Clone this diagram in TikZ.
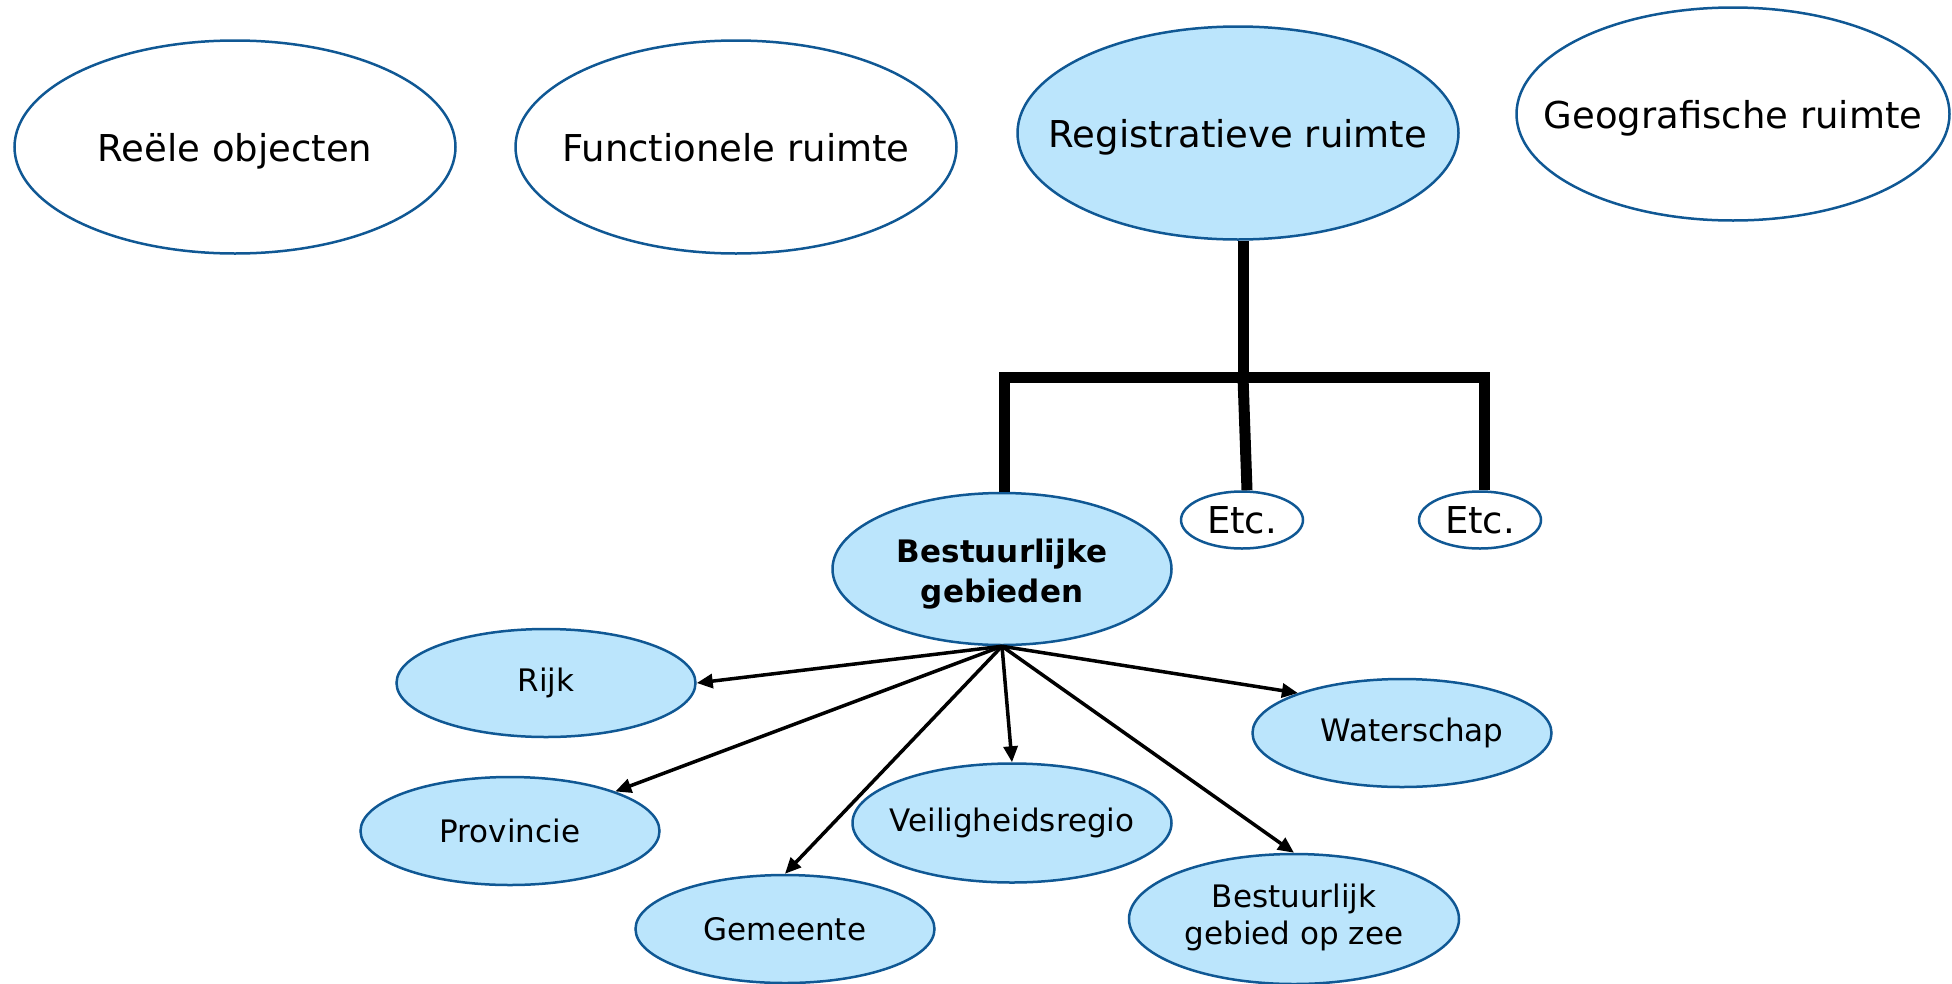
\documentclass[tikz,border=0pt]{standalone}
\usepackage{fontspec}
\setmainfont{DejaVu Sans}
\usetikzlibrary{shapes.geometric,arrows.meta}
\definecolor{fillblue}{RGB}{187,229,252}
\definecolor{edgeblue}{RGB}{16,88,148}
\newcommand{\zw}[1]{\makebox[0pt][c]{#1}}
\newcommand{\twol}[2]{\makebox[0pt][c]{\begin{tabular}{@{}c@{}}#1\\#2\end{tabular}}}
\tikzset{
  oval/.style={ellipse, draw=edgeblue, line width=2.5pt, inner sep=0pt},
  bigoval/.style={oval, minimum width=441pt, minimum height=213pt, font=\fontsize{37}{44}\selectfont, text height=28pt, text depth=0pt},
  smalloval/.style={oval, fill=fillblue, minimum width=299pt, minimum height=108pt, font=\fontsize{31}{37}\selectfont},
  etcoval/.style={oval, minimum width=122pt, minimum height=57pt, font=\fontsize{37}{44}\selectfont},
  thick tree/.style={line width=11pt, line join=miter},
  arr/.style={line width=3.5pt, -{Triangle[length=16pt,width=14pt]}},
}
\begin{document}
\begin{tikzpicture}[x=1pt,y=-1pt]
\useasboundingbox (0,0) rectangle (1952,983);
% top row
\node[bigoval] (reeel) at (235,147) {\zw{Reële objecten}};
\node[bigoval] (func) at (736,147) {\zw{Functionele ruimte}};
\node[bigoval, fill=fillblue] (reg) at (1238,133) {\zw{Registratieve ruimte}};
\node[bigoval, minimum width=433pt] (geo) at (1733,114) {\zw{Geografische ruimte}};
% second level
\node[oval, fill=fillblue, minimum width=339pt, minimum height=152pt] (best) at (1002,569)
  {\fontsize{31}{40}\selectfont\bfseries\raisebox{-12pt}[0pt][0pt]{\twol{Bestuurlijke}{gebieden}}};
\node[etcoval] (etc1) at (1242,520) {\zw{Etc.}};
\node[etcoval] (etc2) at (1480,520) {\zw{Etc.}};
% tree connectors
\coordinate (jn) at (1243,377);
\coordinate (jl) at (1004,377);
\coordinate (jr) at (1484,377);
\coordinate (je) at (1247,377);
\draw[thick tree] (jn |- reg.south) -- (jn);
\draw[thick tree] (best.north -| jl) -- (jl) -- (jr) -- (etc2.north -| jr);
\draw[thick tree] (jn) -- (etc1.north -| je);
% third level
\node[smalloval] (rijk) at (546,683) {\zw{Rijk}};
\node[smalloval] (prov) at (510,831) {\zw{Provincie}};
\node[smalloval] (gem) at (785,929) {\zw{Gemeente}};
\node[smalloval, minimum width=319pt, minimum height=119pt] (veil) at (1012,823) {\zw{Veiligheidsregio}};
\node[smalloval] (wat) at (1402,733) {\hspace*{20pt}\zw{Waterschap}};
\node[smalloval, minimum width=330pt, minimum height=130pt] (zee) at (1294,919)
  {\fontsize{31}{37}\selectfont\twol{Bestuurlijk}{gebied op zee}};
% arrows
\draw[arr] (best.south) -- (rijk.east);
\draw[arr] (best.south) -- (prov);
\draw[arr] (best.south) -- (gem.north);
\draw[arr] (best.south) -- (veil.north);
\draw[arr] (best.south) -- (zee.north);
\draw[arr] (best.south) -- (wat.159);
\end{tikzpicture}
\end{document}
